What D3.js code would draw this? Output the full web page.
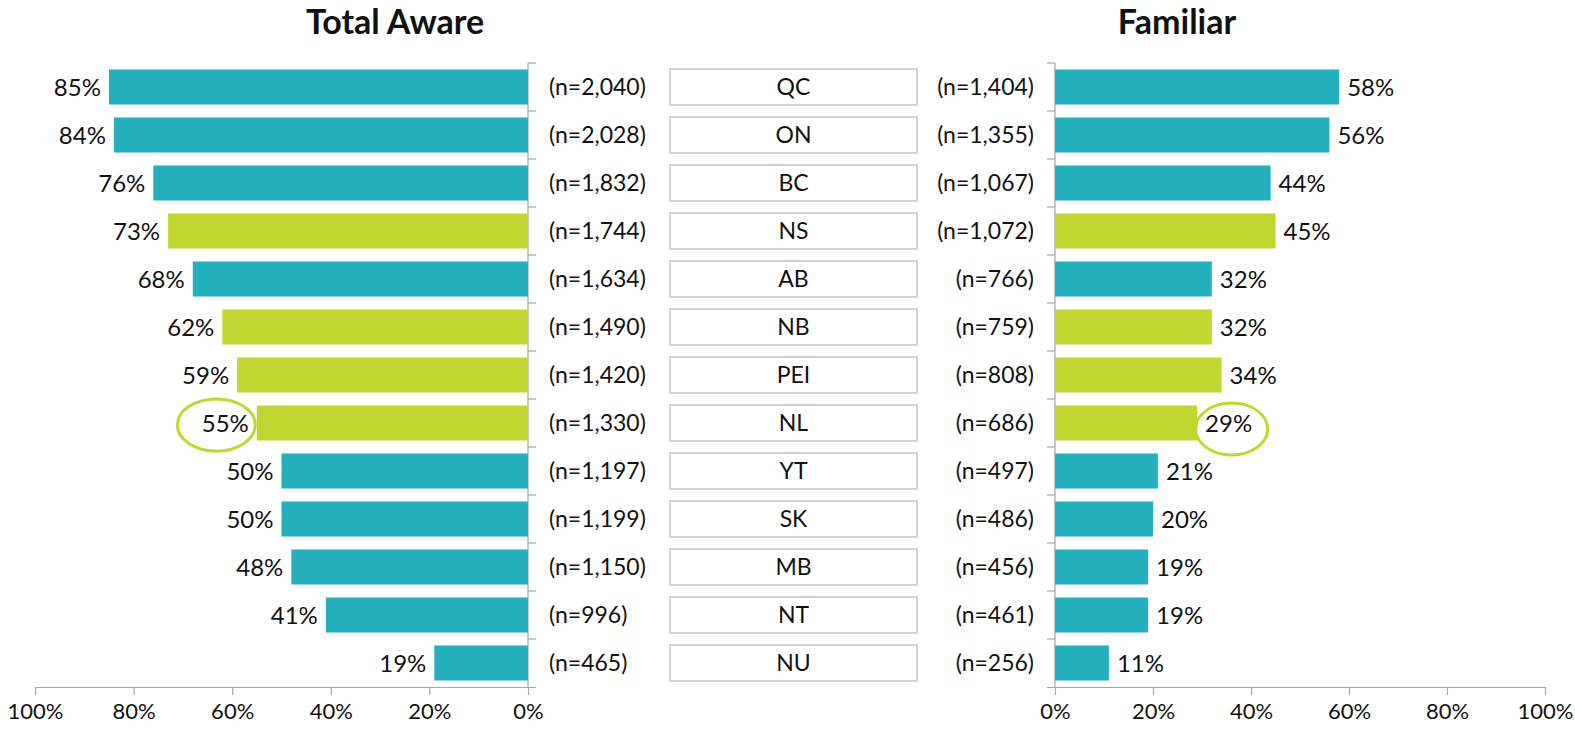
<!DOCTYPE html>
<html>
<head>
<meta charset="utf-8">
<script src="https://cdn.jsdelivr.net/npm/d3@7"></script>
<style>
    body { margin: 0; background: #fff; }
    text { font-family: Lato, "Open Sans", sans-serif; fill: #111; }
    .axis path, .axis line { stroke: #a6a6a6; stroke-width: 1.2; }
    .axis text { font-size: 22px; fill: #111; }
</style>
</head>
<body>
<div id="chart"></div>
<script>

// provinces, top to bottom
const provinces = ["QC", "ON", "BC", "NS", "AB", "NB", "PEI", "NL", "YT", "SK", "MB", "NT", "NU"];
const totalAware = [85, 84, 76, 73, 68, 62, 59, 55, 50, 50, 48, 41, 19];
const familiar = [58, 56, 44, 45, 32, 32, 34, 29, 21, 20, 19, 19, 11];
const nAware = ["2,040", "2,028", "1,832", "1,744", "1,634", "1,490", "1,420", "1,330", "1,197", "1,199", "1,150", "996", "465"];
const nFamiliar = ["1,404", "1,355", "1,067", "1,072", "766", "759", "808", "686", "497", "486", "456", "461", "256"];
const atlantic = ["NS", "NB", "PEI", "NL"];
const highlighted = "NL";
const tickValues = [0, 20, 40, 60, 80, 100];

const teal = "#24b0bc";
const lime = "#c0d732";

let width = 1575, height = 735;

let svg = d3.select("#chart").append("svg")
    .attr("width", width)
    .attr("height", height);

// scales
let y = d3.scaleBand()
    .domain(provinces)
    .range([63, 687])
    .paddingInner(0.27)
    .paddingOuter(0.135);

let xLeft = d3.scaleLinear().domain([0, 100]).range([528, 35]);
let xRight = d3.scaleLinear().domain([0, 100]).range([1055, 1545]);

let rows = provinces.map((p, i) => ({
    prov: p,
    aware: totalAware[i],
    fam: familiar[i],
    nA: nAware[i],
    nF: nFamiliar[i]
}));

let color = d => atlantic.includes(d.prov) ? lime : teal;
let midY = d => y(d.prov) + y.bandwidth() / 2;

// titles
svg.append("text")
    .attr("x", 395).attr("y", 34)
    .attr("text-anchor", "middle")
    .style("font-size", "34px").style("font-weight", "bold")
    .text("Total Aware");

svg.append("text")
    .attr("x", 1177).attr("y", 34)
    .attr("text-anchor", "middle")
    .style("font-size", "34px").style("font-weight", "bold")
    .text("Familiar");

// x axes
let fmt = d => d + "%";

svg.append("g")
    .attr("class", "axis")
    .attr("transform", "translate(0," + y.range()[1] + ")")
    .call(d3.axisBottom(xLeft).tickValues(tickValues).tickFormat(fmt).tickSize(8).tickSizeOuter(0).tickPadding(8))
    .call(g => g.select(".domain").attr("d", "M35,0.5H536"));

svg.append("g")
    .attr("class", "axis")
    .attr("transform", "translate(0," + y.range()[1] + ")")
    .call(d3.axisBottom(xRight).tickValues(tickValues).tickFormat(fmt).tickSize(8).tickSizeOuter(0).tickPadding(8))
    .call(g => g.select(".domain").attr("d", "M1047,0.5H1545"));

// vertical category axes with separator ticks
let bounds = d3.range(provinces.length + 1).map(i => y.range()[0] + i * y.step());

function drawCatAxis(x0, dir) {
    let g = svg.append("g").attr("class", "axis");
    g.append("line")
        .attr("x1", x0).attr("x2", x0)
        .attr("y1", bounds[0]).attr("y2", bounds[bounds.length - 1]);
    g.selectAll(".sep")
        .data(bounds.slice(0, -1))
        .enter().append("line")
        .attr("class", "sep")
        .attr("x1", x0).attr("x2", x0 + dir * 8)
        .attr("y1", d => d).attr("y2", d => d);
}
drawCatAxis(xLeft(0), 1);
drawCatAxis(xRight(0), -1);

// left bars
svg.selectAll(".bar-left")
    .data(rows)
    .enter().append("rect")
    .attr("class", "bar-left")
    .attr("x", d => xLeft(d.aware))
    .attr("y", d => y(d.prov))
    .attr("width", d => xLeft(0) - xLeft(d.aware))
    .attr("height", y.bandwidth())
    .attr("fill", color);

svg.selectAll(".lbl-left")
    .data(rows)
    .enter().append("text")
    .attr("class", "lbl-left")
    .attr("x", d => xLeft(d.aware) - 8)
    .attr("y", d => midY(d))
    .attr("dy", "0.36em")
    .attr("text-anchor", "end")
    .style("font-size", "24px")
    .text(d => d.aware + "%");

// right bars
svg.selectAll(".bar-right")
    .data(rows)
    .enter().append("rect")
    .attr("class", "bar-right")
    .attr("x", xRight(0))
    .attr("y", d => y(d.prov))
    .attr("width", d => xRight(d.fam) - xRight(0))
    .attr("height", y.bandwidth())
    .attr("fill", color);

svg.selectAll(".lbl-right")
    .data(rows)
    .enter().append("text")
    .attr("class", "lbl-right")
    .attr("x", d => xRight(d.fam) + 8)
    .attr("y", d => midY(d))
    .attr("dy", "0.36em")
    .style("font-size", "24px")
    .text(d => d.fam + "%");

// sample sizes
svg.selectAll(".n-left")
    .data(rows)
    .enter().append("text")
    .attr("x", 549)
    .attr("y", d => midY(d))
    .attr("dy", "0.36em")
    .style("font-size", "23px")
    .text(d => "(n=" + d.nA + ")");

svg.selectAll(".n-right")
    .data(rows)
    .enter().append("text")
    .attr("x", 1034)
    .attr("y", d => midY(d))
    .attr("dy", "0.36em")
    .attr("text-anchor", "end")
    .style("font-size", "23px")
    .text(d => "(n=" + d.nF + ")");

// province boxes
let boxes = svg.selectAll(".prov")
    .data(rows)
    .enter().append("g")
    .attr("class", "prov");

boxes.append("rect")
    .attr("x", 670)
    .attr("y", d => midY(d) - 18)
    .attr("width", 247)
    .attr("height", 36)
    .attr("fill", "#fff")
    .attr("stroke", "#c8c8c8")
    .attr("stroke-width", 1.6);

boxes.append("text")
    .attr("x", 793.5)
    .attr("y", d => midY(d))
    .attr("dy", "0.36em")
    .attr("text-anchor", "middle")
    .style("font-size", "23px")
    .text(d => d.prov);

// highlight rings round the NL labels
let hl = rows.find(d => d.prov === highlighted);
let leftLbl = svg.selectAll(".lbl-left").filter(d => d.prov === highlighted).node().getBBox();
let rightLbl = svg.selectAll(".lbl-right").filter(d => d.prov === highlighted).node().getBBox();

svg.append("ellipse")
    .attr("cx", leftLbl.x + leftLbl.width / 2 - 9)
    .attr("cy", midY(hl) + 2)
    .attr("rx", 39).attr("ry", 26)
    .attr("fill", "none")
    .attr("stroke", lime)
    .attr("stroke-width", 3);

svg.append("ellipse")
    .attr("cx", rightLbl.x + rightLbl.width / 2 + 3)
    .attr("cy", midY(hl) + 6)
    .attr("rx", 36).attr("ry", 26)
    .attr("fill", "none")
    .attr("stroke", lime)
    .attr("stroke-width", 3);

</script>
</body>
</html>
